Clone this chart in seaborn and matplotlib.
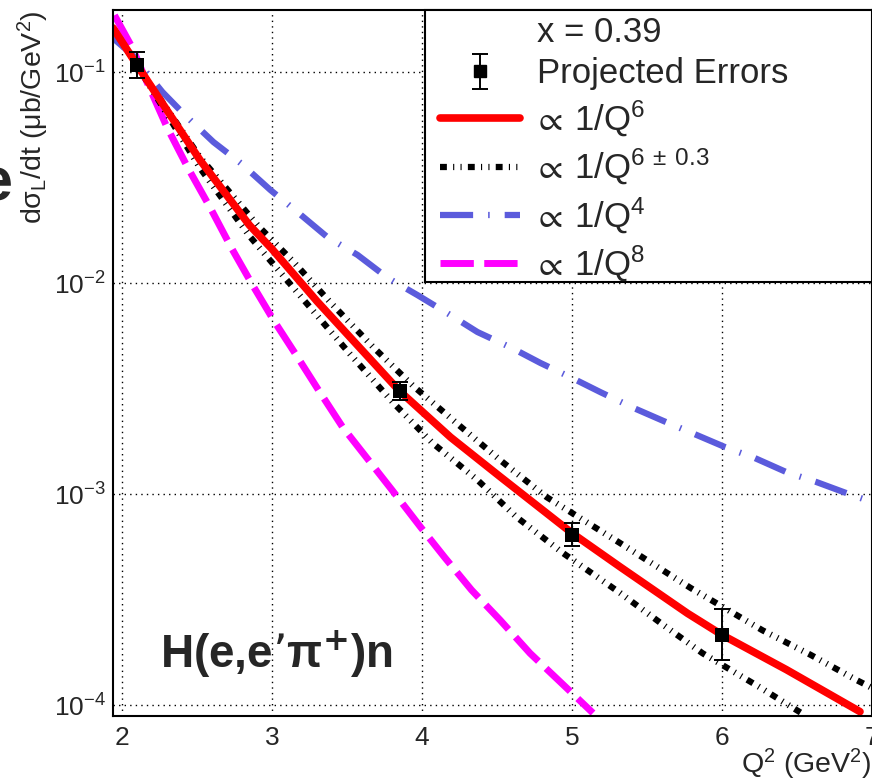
import seaborn as sns
import matplotlib.pyplot as plt
from matplotlib.lines import Line2D
from matplotlib.patches import Rectangle
from matplotlib.ticker import MultipleLocator, LogLocator, NullFormatter

# projected data points (Q^2 in GeV^2, dsigma_L/dt in ub/GeV^2)
pt_q2 = [2.10, 3.85, 5.00, 6.00]
pt_xs = [0.108, 3.08e-3, 6.40e-4, 2.15e-4]
pt_err_lo = [0.0142, 2.9e-4, 7.5e-5, 5.2e-5]
pt_err_hi = [0.0165, 3.2e-4, 8.7e-5, 6.9e-5]

# 1/Q^6 curve
q6_q2 = [1.94, 2.10, 2.52, 2.85, 3.00, 3.30, 3.85, 4.19, 4.52, 5.00, 5.32, 5.77, 6.00, 6.43, 6.92]
q6_xs = [0.162, 0.108, 0.0383, 0.0188, 0.0145, 0.0082, 3.08e-3, 1.86e-3, 1.21e-3,
         6.53e-4, 4.52e-4, 2.72e-4, 2.15e-4, 1.47e-4, 9.3e-5]

# 1/Q^(6-0.3) band edge (upper)
up_q2 = [1.94, 2.10, 2.52, 2.91, 3.14, 3.39, 3.67, 3.94, 4.23, 4.52, 4.83, 5.32, 5.79, 6.27, 6.59, 6.90, 7.00]
up_xs = [0.162, 0.108, 0.0395, 0.0186, 0.01268, 8.09e-3, 5.01e-3, 3.26e-3, 2.17e-3, 1.45e-3,
         9.68e-4, 5.86e-4, 3.59e-4, 2.26e-4, 1.73e-4, 1.31e-4, 1.205e-4]

# 1/Q^(6+0.3) band edge (lower)
lo_q2 = [1.94, 2.10, 2.52, 2.85, 3.19, 3.52, 3.81, 4.07, 4.37, 4.63, 4.94, 5.32, 5.59, 5.87, 6.25, 6.54]
lo_xs = [0.162, 0.108, 0.0351, 0.0167, 8.67e-3, 4.61e-3, 2.70e-3, 1.746e-3, 1.165e-3, 7.78e-4,
         5.25e-4, 3.40e-4, 2.45e-4, 1.76e-4, 1.216e-4, 9.06e-5]

# 1/Q^4 curve
q4_q2 = [1.94, 2.07, 2.27, 2.42, 2.61, 2.79, 2.99, 3.17, 3.37, 3.57, 3.77, 3.97, 4.19, 4.37,
         4.60, 4.79, 5.00, 5.19, 5.41, 5.61, 5.82, 6.02, 6.22, 6.43, 6.63, 6.83, 7.00]
q4_xs = [0.145, 0.1205, 0.0804, 0.0625, 0.0466, 0.0371, 0.0276, 0.0217, 0.0165, 0.0136,
         0.0106, 8.77e-3, 7.05e-3, 5.86e-3, 4.92e-3, 4.18e-3, 3.55e-3, 3.04e-3, 2.56e-3,
         2.22e-3, 1.92e-3, 1.67e-3, 1.48e-3, 1.27e-3, 1.14e-3, 1.01e-3, 9.17e-4]

# 1/Q^8 curve
q8_q2 = [1.95, 2.07, 2.14, 2.30, 2.44, 2.59, 2.73, 2.87, 3.01, 3.17, 3.31, 3.47, 3.59, 3.80,
         3.99, 4.15, 4.33, 4.52, 4.72, 4.93, 5.14]
q8_xs = [0.186, 0.130, 0.0989, 0.0548, 0.0351, 0.02265, 0.01466, 9.8e-3, 6.68e-3, 4.46e-3,
         3.11e-3, 2.08e-3, 1.62e-3, 1.045e-3, 6.98e-4, 5.02e-4, 3.51e-4, 2.53e-4, 1.76e-4,
         1.27e-4, 9.16e-5]

sns.set_style("white")
plt.rcParams['font.family'] = ['Liberation Sans', 'DejaVu Sans']
plt.rcParams['mathtext.fontset'] = 'dejavusans'
plt.rcParams['mathtext.default'] = 'regular'

fig = plt.figure(figsize=(8.72, 7.82), dpi=100)
ax = fig.add_axes([113 / 872, 1 - 716 / 782, 759 / 872, 706 / 782])

# curves
sns.lineplot(x=q8_q2, y=q8_xs, ax=ax, color='#ff00ff', lw=5.0, errorbar=None)
l_q8 = ax.lines[-1]
l_q8.set_dashes([4.8, 1.5])

sns.lineplot(x=q4_q2, y=q4_xs, ax=ax, color='#5b5bdc', lw=4.5, errorbar=None)
l_q4 = ax.lines[-1]
l_q4.set_dashes([5.3, 2.4, 0.25, 2.4])

band_dash = [1.1, 1.0, 0.18, 1.0, 0.18, 1.0]
sns.lineplot(x=up_q2, y=up_xs, ax=ax, color='black', lw=4.5, errorbar=None)
l_band = ax.lines[-1]
l_band.set_dashes(band_dash)
sns.lineplot(x=lo_q2, y=lo_xs, ax=ax, color='black', lw=4.5, errorbar=None)
ax.lines[-1].set_dashes(band_dash)

sns.lineplot(x=q6_q2, y=q6_xs, ax=ax, color='red', lw=5.5, errorbar=None)
l_q6 = ax.lines[-1]

# projected points
eb = ax.errorbar(pt_q2, pt_xs, yerr=[pt_err_lo, pt_err_hi], fmt='none', ecolor='black',
                 elinewidth=1.4, capsize=6, capthick=1.4, zorder=9)
sns.scatterplot(x=pt_q2, y=pt_xs, ax=ax, marker='s', s=90, color='black', linewidth=0, zorder=10)

ax.set_yscale('log')
ax.set_xlim(1.94, 7.0)
ax.set_ylim(8.87e-5, 0.197)

ax.xaxis.set_major_locator(MultipleLocator(1))
ax.xaxis.set_minor_locator(MultipleLocator(0.2))
ax.yaxis.set_major_locator(LogLocator(base=10))
ax.yaxis.set_minor_locator(LogLocator(base=10, subs=range(2, 10)))
ax.yaxis.set_minor_formatter(NullFormatter())

ax.grid(True, which='major', color='black', lw=1.0, ls=(0, (1, 3)))
ax.tick_params(which='major', direction='in', length=16, width=1.2, labelsize=19,
               top=False, right=False)
ax.tick_params(which='minor', direction='in', length=8.5, width=1.1, top=False, right=False)
ax.tick_params(axis='x', pad=7)
ax.tick_params(axis='y', pad=5)
for s in ax.spines.values():
    s.set_linewidth(1.5)
    s.set_color('black')

ax.set_xlabel(r"Q$^{2}$ (GeV$^{2}$)", fontsize=20.5, loc='right', labelpad=-2)
ax.set_ylabel(r"dσ$_{L}$/dt (μb/GeV$^{2}$)", fontsize=20.5, loc='top', labelpad=2)

ax.text(0.062, 0.068, r"H(e,e’π$^{\mathbf{+}}$)n", transform=ax.transAxes,
        fontsize=33, fontweight='bold', va='baseline', ha='left')
fig.text(0.014, 0.744, "e", fontsize=44, fontweight='bold', ha='right', va='baseline')

# legend box (frame drawn separately so the entries can sit where they do in the original)
x0 = (425 - 113) / 759
y0 = (716 - 282) / 706
ax.add_patch(Rectangle((x0, y0), 1 - x0, 1 - y0, transform=ax.transAxes, facecolor='white',
                       edgecolor='black', lw=1.5, zorder=4.9, clip_on=False))

blank = Line2D([], [], color='none')
sq = Line2D([], [], marker='s', color='black', ls='none', ms=9)
handles = [blank, (eb, sq), l_q6, l_band, l_q4, l_q8]
labels = ["x = 0.39", "Projected Errors", r"$\!\propto\,$1/Q$^{6}$",
          r"$\!\propto\,$1/Q$^{6\,\pm\,0.3}$",
          r"$\!\propto\,$1/Q$^{4}$", r"$\!\propto\,$1/Q$^{8}$"]
leg = ax.legend(handles, labels, loc='upper left',
                bbox_to_anchor=((440 - 113) / 759, 1 - 6 / 706),
                borderaxespad=0, borderpad=0, fontsize=25, handlelength=2.3,
                handletextpad=0.5, labelspacing=0.24, frameon=False)
leg.set_zorder(6)

fig.savefig('out.png', dpi=100)
